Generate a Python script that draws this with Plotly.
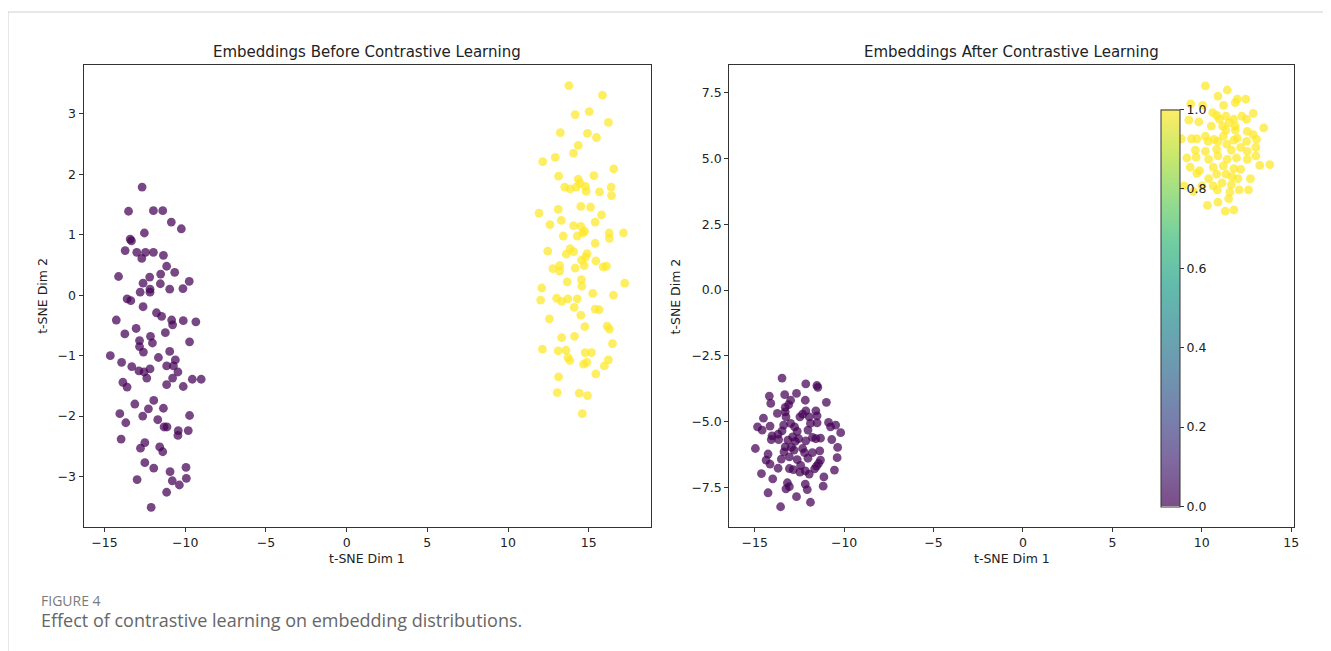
import plotly.graph_objects as go

# ---------------- data ----------------
before_c0_x = [-12.67, -13.51, -11.97, -11.39, -10.86, -10.24, -12.53, -13.41, -13.33, -13.72,
               -13.00, -12.46, -11.97, -11.35, -12.69, -11.15, -10.65, -14.13, -12.20, -11.52,
               -12.61, -11.54, -9.75, -12.18, -12.18, -12.79, -10.96, -10.14, -13.60, -13.37,
               -12.61, -11.78, -11.46, -14.27, -10.84, -10.78, -10.12, -9.34, -13.04, -13.74,
               -11.23, -12.15, -12.03, -9.73, -12.83, -12.83, -12.59, -14.64, -10.96, -11.66,
               -13.94, -13.31, -12.87, -12.55, -12.18, -11.15, -10.61, -10.73, -10.45, -12.38,
               -10.78, -9.56, -9.01, -13.86, -13.60, -11.15, -10.12, -11.95, -13.12, -12.28,
               -11.35, -14.05, -12.63, -9.73, -13.68, -11.70, -11.31, -11.13, -10.43, -9.81,
               -10.45, -13.97, -12.50, -12.77, -11.58, -11.39, -12.50, -11.95, -9.95, -10.94,
               -10.80, -9.93, -10.36, -12.98, -11.15, -12.11]
before_c0_y = [1.79, 1.39, 1.40, 1.40, 1.21, 1.10, 1.03, 0.93, 0.90, 0.74,
               0.71, 0.71, 0.71, 0.66, 0.61, 0.48, 0.38, 0.31, 0.30, 0.35,
               0.20, 0.19, 0.23, 0.10, 0.05, 0.05, 0.10, 0.11, -0.06, -0.09,
               -0.19, -0.29, -0.35, -0.41, -0.41, -0.49, -0.42, -0.44, -0.55, -0.64,
               -0.62, -0.68, -0.79, -0.77, -0.75, -0.85, -0.94, -1.00, -0.93, -1.03,
               -1.11, -1.18, -1.25, -1.27, -1.22, -1.17, -1.07, -1.17, -1.27, -1.37,
               -1.37, -1.39, -1.39, -1.44, -1.52, -1.48, -1.51, -1.74, -1.80, -1.88,
               -1.87, -1.96, -2.00, -1.99, -2.11, -2.06, -2.18, -2.18, -2.24, -2.24,
               -2.32, -2.38, -2.44, -2.53, -2.51, -2.59, -2.77, -2.86, -2.85, -2.92,
               -3.07, -3.03, -3.14, -3.05, -3.26, -3.51]

before_c1_x = [13.77, 15.85, 14.16, 15.03, 16.22, 13.24, 14.92, 15.48, 14.35, 14.06,
               12.93, 12.15, 16.55, 13.13, 15.32, 14.35, 13.51, 13.85, 14.23, 14.45,
               14.80, 14.84, 15.67, 16.39, 16.41, 14.51, 15.11, 11.92, 13.11, 15.79,
               13.30, 12.60, 15.40, 14.06, 14.51, 14.74, 14.64, 14.29, 13.42, 16.26,
               16.28, 17.15, 15.40, 12.46, 13.85, 13.61, 14.06, 14.90, 14.80, 14.55,
               15.44, 12.78, 13.20, 13.20, 14.16, 14.72, 15.89, 16.10, 13.67, 14.55,
               14.57, 17.23, 12.09, 12.02, 13.01, 13.32, 13.71, 14.29, 15.25, 16.53,
               14.10, 15.40, 15.65, 14.51, 12.56, 14.76, 16.14, 16.28, 13.32, 14.12,
               16.47, 12.13, 13.11, 13.59, 13.71, 13.83, 14.78, 15.17, 14.68, 14.88,
               16.22, 15.97, 13.13, 15.44, 13.05, 14.41, 14.92, 14.60]
before_c1_y = [3.47, 3.31, 2.99, 3.04, 2.86, 2.69, 2.68, 2.61, 2.48, 2.35,
               2.28, 2.21, 2.09, 1.97, 1.98, 1.92, 1.79, 1.76, 1.79, 1.85,
               1.80, 1.72, 1.71, 1.79, 1.65, 1.47, 1.46, 1.36, 1.42, 1.33,
               1.24, 1.17, 1.21, 1.15, 1.14, 1.06, 1.03, 0.98, 0.98, 1.03,
               0.94, 1.03, 0.86, 0.73, 0.77, 0.68, 0.72, 0.69, 0.63, 0.58,
               0.57, 0.44, 0.49, 0.40, 0.45, 0.49, 0.47, 0.48, 0.22, 0.26,
               0.15, 0.20, 0.12, -0.08, -0.05, -0.10, -0.06, -0.06, 0.03, 0.00,
               -0.20, -0.23, -0.24, -0.33, -0.39, -0.52, -0.51, -0.56, -0.70, -0.68,
               -0.80, -0.89, -0.92, -0.91, -1.03, -1.08, -0.95, -0.95, -1.14, -1.11,
               -1.07, -1.17, -1.35, -1.30, -1.61, -1.62, -1.66, -1.96]

after_c0_x = [-13.47, -12.14, -11.52, -11.47, -14.18, -14.10, -13.32, -12.66, -12.99, -13.10,
              -13.29, -12.17, -10.99, -13.73, -13.29, -13.25, -12.14, -11.58, -12.32, -12.47,
              -14.51, -11.95, -11.51, -14.84, -14.58, -14.14, -13.38, -12.99, -12.77, -11.88,
              -11.51, -10.87, -10.47, -10.76, -10.19, -14.03, -13.69, -13.47, -12.62, -12.02,
              -12.88, -12.54, -11.77, -11.32, -10.69, -14.07, -13.66, -13.14, -12.73, -12.14,
              -11.58, -14.96, -13.29, -12.95, -12.32, -11.36, -10.36, -14.25, -13.36, -12.80,
              -12.21, -11.77, -14.36, -14.14, -13.51, -13.06, -12.62, -12.02, -11.32, -10.39,
              -13.69, -13.06, -12.84, -12.43, -12.17, -11.65, -11.54, -11.43, -14.62, -12.47,
              -11.95, -11.13, -10.54, -13.99, -13.17, -13.06, -12.17, -13.25, -12.06, -11.17,
              -14.25, -12.66, -11.88, -13.55]
after_c0_y = [-3.34, -3.56, -3.62, -3.69, -4.02, -4.30, -3.97, -3.92, -4.18, -4.35,
              -4.45, -4.18, -4.26, -4.68, -4.62, -4.81, -4.58, -4.58, -4.71, -4.81,
              -4.86, -4.81, -4.77, -5.19, -5.31, -5.16, -5.12, -5.06, -5.19, -5.06,
              -5.04, -5.02, -5.12, -5.19, -5.41, -5.53, -5.47, -5.34, -5.36, -5.31,
              -5.57, -5.64, -5.59, -5.62, -5.67, -5.67, -5.67, -5.69, -5.74, -5.72,
              -5.64, -6.01, -5.95, -5.97, -6.01, -6.10, -5.97, -6.22, -6.14, -6.07,
              -6.17, -6.17, -6.45, -6.60, -6.41, -6.33, -6.43, -6.38, -6.45, -6.36,
              -6.76, -6.77, -6.81, -6.65, -6.86, -6.78, -6.68, -6.58, -6.96, -6.91,
              -6.98, -7.09, -6.83, -7.16, -7.31, -7.46, -7.36, -7.54, -7.57, -7.44,
              -7.69, -7.84, -8.05, -8.22]

after_c1_x = [10.20, 11.42, 10.90, 11.98, 12.46, 9.38, 10.05, 11.22, 11.87, 10.61,
              10.83, 12.87, 9.27, 9.83, 11.35, 10.98, 11.79, 12.24, 12.50, 11.16,
              11.53, 10.53, 11.87, 11.35, 13.46, 8.86, 9.42, 9.72, 10.20, 10.68,
              11.20, 11.87, 11.98, 12.54, 12.87, 10.35, 10.90, 11.39, 11.79, 12.50,
              13.06, 9.64, 10.20, 10.83, 11.65, 12.17, 12.54, 13.02, 9.16, 9.68,
              10.38, 10.90, 11.42, 11.94, 12.54, 13.02, 13.24, 13.80, 9.35, 9.87,
              10.64, 11.20, 11.79, 12.17, 9.72, 10.38, 10.83, 11.35, 11.68, 12.02,
              12.72, 10.01, 10.64, 11.13, 11.65, 9.53, 10.87, 11.57, 12.09, 12.61,
              9.01, 11.50, 10.90, 10.31, 11.31, 11.79]
after_c1_y = [7.75, 7.59, 7.36, 7.24, 7.24, 7.06, 7.01, 7.01, 7.11, 6.73,
              6.63, 6.70, 6.45, 6.38, 6.60, 6.48, 6.48, 6.60, 6.48, 6.22,
              6.35, 6.22, 6.22, 6.07, 6.15, 5.74, 5.74, 5.74, 5.84, 5.72,
              5.84, 6.07, 5.76, 6.02, 5.90, 5.64, 5.64, 5.54, 5.69, 5.64,
              5.72, 5.31, 5.26, 5.34, 5.31, 5.41, 5.26, 5.41, 5.01, 5.04,
              4.96, 5.09, 4.96, 5.01, 4.96, 5.09, 4.73, 4.76, 4.66, 4.53,
              4.66, 4.71, 4.61, 4.58, 4.43, 4.23, 4.40, 4.40, 4.30, 4.23,
              4.23, 3.95, 3.95, 4.07, 4.00, 3.74, 3.80, 3.72, 3.80, 3.80,
              3.95, 3.47, 3.34, 3.21, 2.99, 3.04]

x_ticks = [-15, -10, -5, 0, 5, 10, 15]
y_ticks_before = [-3, -2, -1, 0, 1, 2, 3]
y_ticks_after = [-7.5, -5.0, -2.5, 0.0, 2.5, 5.0, 7.5]
cbar_ticks = [0.0, 0.2, 0.4, 0.6, 0.8, 1.0]

titles = ["Embeddings Before Contrastive Learning", "Embeddings After Contrastive Learning"]
x_label = "t-SNE Dim 1"
y_label = "t-SNE Dim 2"
caption_label = "FIGURE 4"
caption_text = "Effect of contrastive learning on embedding distributions."

# ---------------- style ----------------
OFF = 8                      # the page body margin that plotly's html keeps
W, H = 1331 - OFF, 651 - OFF
PURPLE = "#440154"
YELLOW = "#fde725"
ALPHA = 0.72
MSIZE = 8.8
FONT = "DejaVu Sans"
TXT = "#222222"
TICK_SIZE = 12.5

viridis = ["#440154", "#482878", "#3e4989", "#31688e", "#26828e",
           "#1f9e89", "#35b779", "#6ece58", "#b5de2b", "#fde725"]


def blend(hx, a):
    r, g, b = int(hx[1:3], 16), int(hx[3:5], 16), int(hx[5:7], 16)
    f = lambda c: round(a * c + (1 - a) * 255)
    return f"rgb({f(r)},{f(g)},{f(b)})"


cscale = [[i / (len(viridis) - 1), blend(c, 0.7)] for i, c in enumerate(viridis)]


def px_x(p):
    return (p - OFF) / W


def px_y(p):
    return 1 - (p - OFF) / H


# plot areas in page pixels
L1, R1 = 83.8, 653.0
L2, R2 = 732.0, 1299.0
TOP, BOT = 64.7, 527.3

fig = go.Figure()


def add_pts(x, y, color, xa, ya):
    fig.add_trace(go.Scatter(
        x=x, y=y, mode="markers", xaxis=xa, yaxis=ya, showlegend=False,
        marker=dict(size=MSIZE, color=color, opacity=ALPHA, line=dict(width=0)),
        hoverinfo="x+y"))


add_pts(before_c0_x, before_c0_y, PURPLE, "x", "y")
add_pts(before_c1_x, before_c1_y, YELLOW, "x", "y")
add_pts(after_c0_x, after_c0_y, PURPLE, "x2", "y2")
add_pts(after_c1_x, after_c1_y, YELLOW, "x2", "y2")

# colour bar (drawn from a dummy trace carrying the faded viridis scale)
cb_top, cb_bot = 109.3, 506.7
fig.add_trace(go.Scatter(
    x=[None], y=[None], mode="markers", xaxis="x2", yaxis="y2", showlegend=False,
    marker=dict(color=[0, 1], cmin=0, cmax=1, colorscale=cscale, showscale=True,
                colorbar=dict(
                    x=px_x(1165), xanchor="left", xref="paper",
                    y=px_y((cb_top + cb_bot) / 2), yanchor="middle", yref="paper",
                    len=cb_bot - cb_top, lenmode="pixels",
                    thickness=19, thicknessmode="pixels",
                    xpad=0, ypad=0, outlinewidth=1, outlinecolor="#333",
                    tickvals=cbar_ticks, ticktext=[f"{v:.1f}" for v in cbar_ticks],
                    ticks="outside", ticklen=4, tickcolor="#333",
                    tickfont=dict(family=FONT, size=TICK_SIZE, color=TXT),
                    bgcolor="rgba(0,0,0,0)", borderwidth=0))))

axis_common = dict(showgrid=False, zeroline=False, showline=True, linecolor="#333",
                   linewidth=1, mirror=True, ticks="outside", ticklen=4, tickwidth=1,
                   tickcolor="#333", tickfont=dict(family=FONT, size=TICK_SIZE, color=TXT))

fig.update_layout(
    width=W, height=H, autosize=False,
    margin=dict(l=0, r=0, t=0, b=0),
    paper_bgcolor="white", plot_bgcolor="white",
    xaxis=dict(domain=[px_x(L1), px_x(R1)], range=[-16.3, 18.83], tickvals=x_ticks,
               anchor="y", **axis_common),
    yaxis=dict(domain=[px_y(BOT), px_y(TOP)], range=[-3.84, 3.815], tickvals=y_ticks_before,
               anchor="x", **axis_common),
    xaxis2=dict(domain=[px_x(L2), px_x(R2)], range=[-16.42, 15.16], tickvals=x_ticks,
                anchor="y2", **axis_common),
    yaxis2=dict(domain=[px_y(BOT), px_y(TOP)], range=[-9.0, 8.55], tickvals=y_ticks_after,
                tickformat=".1f", anchor="x2", **axis_common),
)

ann = []
for cx, t in [((L1 + R1) / 2, titles[0]), ((L2 + R2) / 2, titles[1])]:
    ann.append(dict(x=px_x(cx), y=px_y(52), xref="paper", yref="paper", text=t,
                    showarrow=False, xanchor="center", yanchor="middle",
                    font=dict(family=FONT, size=15, color=TXT)))
    ann.append(dict(x=px_x(cx), y=px_y(558), xref="paper", yref="paper", text=x_label,
                    showarrow=False, xanchor="center", yanchor="middle",
                    font=dict(family=FONT, size=12.5, color=TXT)))
for cx in [42, 678]:
    ann.append(dict(x=px_x(cx), y=px_y((TOP + BOT) / 2), xref="paper", yref="paper",
                    text=y_label, showarrow=False, textangle=-90, xanchor="center",
                    yanchor="middle", font=dict(family=FONT, size=12.5, color=TXT)))
ann.append(dict(x=px_x(39), y=px_y(600), xref="paper", yref="paper", text=caption_label,
                showarrow=False, xanchor="left", yanchor="middle",
                font=dict(family="Open Sans", size=14, color="#7a7a7a")))
ann.append(dict(x=px_x(39), y=px_y(620), xref="paper", yref="paper", text=caption_text,
                showarrow=False, xanchor="left", yanchor="middle",
                font=dict(family="Open Sans", size=18, color="#666666")))
fig.update_layout(annotations=ann)

# card border (top and left rules)
fig.update_layout(shapes=[
    dict(type="line", xref="paper", yref="paper", x0=px_x(8), x1=1, y0=px_y(12), y1=px_y(12),
         line=dict(color="#d0d0d0", width=1)),
    dict(type="line", xref="paper", yref="paper", x0=px_x(8), x1=px_x(8), y0=0, y1=px_y(12),
         line=dict(color="#d0d0d0", width=1)),
])

fig.write_html("out.html")
